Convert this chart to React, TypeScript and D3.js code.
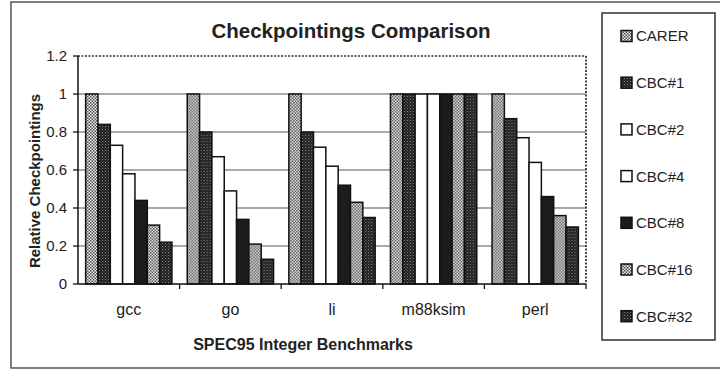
import React from "react";
import * as d3 from "d3";

const categories = ["gcc", "go", "li", "m88ksim", "perl"];
const seriesNames = ["CARER", "CBC#1", "CBC#2", "CBC#4", "CBC#8", "CBC#16", "CBC#32"];
const carer = [1, 1, 1, 1, 1];
const cbc1 = [0.84, 0.8, 0.8, 1, 0.87];
const cbc2 = [0.73, 0.67, 0.72, 1, 0.77];
const cbc4 = [0.58, 0.49, 0.62, 1, 0.64];
const cbc8 = [0.44, 0.34, 0.52, 1, 0.46];
const cbc16 = [0.31, 0.21, 0.43, 1, 0.36];
const cbc32 = [0.22, 0.13, 0.35, 1, 0.3];
const yTicks = [0, 0.2, 0.4, 0.6, 0.8, 1, 1.2];

const seriesValues = [carer, cbc1, cbc2, cbc4, cbc8, cbc16, cbc32];
const fills = [
  "url(#light)",
  "url(#dark)",
  "#ffffff",
  "#ffffff",
  "#1c1c1c",
  "url(#light)",
  "url(#dark)",
];

const W = 720;
const H = 369;
const plot = { left: 78, right: 586, top: 56, bottom: 284 };
const font = "Arial, 'Liberation Sans', Helvetica, sans-serif";

export default function App() {
  const x0 = d3
    .scaleBand<string>()
    .domain(categories)
    .range([plot.left, plot.right])
    .paddingInner(0)
    .paddingOuter(0);
  const x1 = d3
    .scaleBand<string>()
    .domain(seriesNames)
    .range([0, x0.bandwidth()])
    .paddingOuter(0.62)
    .paddingInner(0);
  const y = d3.scaleLinear().domain([0, 1.2]).range([plot.bottom, plot.top]);

  const fmt = (v: number) => (v === 0 || v === 1 ? String(v) : d3.format(".1f")(v));

  return (
    <svg
      width={W}
      height={H}
      viewBox={`0 0 ${W} ${H}`}
      style={{ position: "absolute", left: 0, top: 0, background: "#fff" }}
    >
      <defs>
        <pattern id="light" width={3} height={3} patternUnits="userSpaceOnUse">
          <rect width={3} height={3} fill="#e8e8e8" />
          <rect x={0} y={0} width={1.5} height={1.5} fill="#555" />
          <rect x={1.5} y={1.5} width={1.5} height={1.5} fill="#555" />
        </pattern>
        <pattern id="dark" width={3} height={3} patternUnits="userSpaceOnUse">
          <rect width={3} height={3} fill="#1e1e1e" />
          <rect x={0} y={0} width={1} height={1} fill="#8a8a8a" />
          <rect x={1.5} y={1.5} width={1} height={1} fill="#6a6a6a" />
        </pattern>
      </defs>

      {/* outer frame */}
      <rect x={11} y={2} width={730} height={366} fill="#fff" stroke="#555" strokeWidth={1.5} />

      {/* title */}
      <text
        x={351}
        y={37.5}
        textAnchor="middle"
        fontFamily={font}
        fontWeight="bold"
        fontSize={20.5}
        fill="#222"
      >
        Checkpointings Comparison
      </text>

      {/* gridlines */}
      {yTicks
        .filter((t) => t > 0 && t < 1.2)
        .map((t) => (
          <line
            key={t}
            x1={plot.left}
            x2={plot.right}
            y1={y(t)}
            y2={y(t)}
            stroke="#8c8c8c"
            strokeWidth={1.3}
          />
        ))}

      {/* plot border: dotted top and right */}
      <line
        x1={plot.left}
        x2={plot.right}
        y1={plot.top}
        y2={plot.top}
        stroke="#333"
        strokeWidth={1.5}
        strokeDasharray="2,1.5"
      />
      <line
        x1={plot.right}
        x2={plot.right}
        y1={plot.top}
        y2={plot.bottom}
        stroke="#333"
        strokeWidth={1.8}
        strokeDasharray="2,1.5"
      />

      {/* bars */}
      {categories.map((c, ci) => (
        <g key={c} transform={`translate(${x0(c)},0)`}>
          {seriesNames.map((s, si) => {
            const v = seriesValues[si][ci];
            return (
              <rect
                key={s}
                x={x1(s)!}
                y={y(v)}
                width={x1.bandwidth()}
                height={y(0) - y(v)}
                fill={fills[si]}
                stroke="#111"
                strokeWidth={1.5}
              />
            );
          })}
        </g>
      ))}

      {/* axes */}
      <line x1={plot.left} x2={plot.left} y1={plot.top} y2={plot.bottom} stroke="#111" strokeWidth={1.5} />
      <line x1={plot.left} x2={plot.right} y1={plot.bottom} y2={plot.bottom} stroke="#111" strokeWidth={1.5} />
      {yTicks.map((t) => (
        <g key={t}>
          <line x1={plot.left - 5} x2={plot.left} y1={y(t)} y2={y(t)} stroke="#111" strokeWidth={1.3} />
          <text
            x={plot.left - 11}
            y={y(t)}
            dy="0.36em"
            textAnchor="end"
            fontFamily={font}
            fontSize={15}
            fill="#222"
          >
            {fmt(t)}
          </text>
        </g>
      ))}
      {categories.map((c, ci) => (
        <g key={c}>
          <line
            x1={x0(c)! + x0.bandwidth()}
            x2={x0(c)! + x0.bandwidth()}
            y1={plot.bottom}
            y2={plot.bottom + 5}
            stroke="#111"
            strokeWidth={1.3}
          />
          <text
            x={x0(c)! + x0.bandwidth() / 2}
            y={315}
            textAnchor="middle"
            fontFamily={font}
            fontSize={16}
            fill="#222"
          >
            {c}
          </text>
        </g>
      ))}

      {/* axis titles */}
      <text
        x={303}
        y={350}
        textAnchor="middle"
        fontFamily={font}
        fontWeight="bold"
        fontSize={16}
        fill="#222"
      >
        SPEC95 Integer Benchmarks
      </text>
      <text
        transform={`translate(40, 181) rotate(-90)`}
        textAnchor="middle"
        fontFamily={font}
        fontWeight="bold"
        fontSize={15}
        fill="#222"
      >
        Relative Checkpointings
      </text>

      {/* legend */}
      <rect x={602} y={13} width={113} height={327} fill="#fff" stroke="#333" strokeWidth={1.5} />
      {seriesNames.map((s, si) => {
        const cy = 36 + si * 46.7;
        return (
          <g key={s}>
            <rect
              x={621}
              y={cy - 5.5}
              width={11}
              height={11}
              fill={fills[si]}
              stroke="#111"
              strokeWidth={1.5}
            />
            <text
              x={636}
              y={cy}
              dy="0.36em"
              fontFamily={font}
              fontSize={15}
              fill="#222"
            >
              {s}
            </text>
          </g>
        );
      })}
    </svg>
  );
}
